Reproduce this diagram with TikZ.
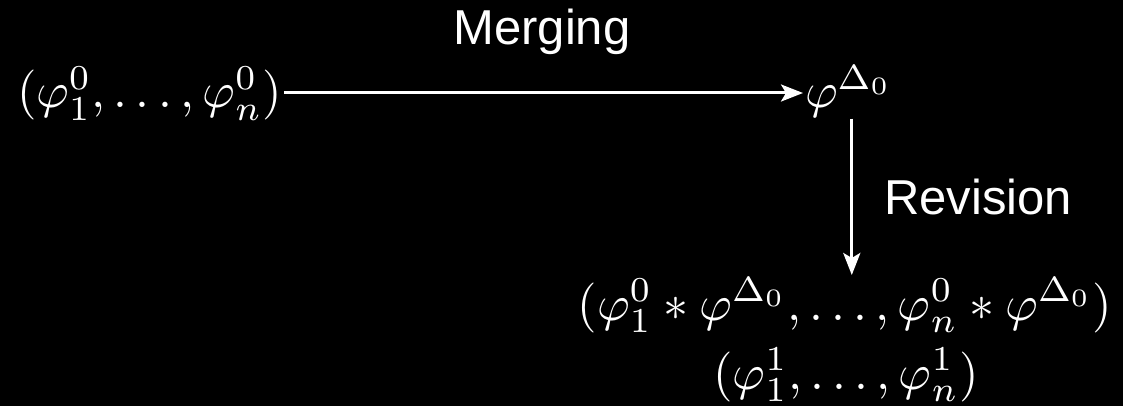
\RequirePackage{fix-cm}
\documentclass[tikz,border=0pt]{standalone}
\usepackage[no-math]{fontspec}
\newfontfamily\labelfont{Liberation Sans}
\usetikzlibrary{arrows.meta}
\tikzset{
  mathtxt/.style={text=white, inner sep=0pt, scale=5.0},
  lbl/.style={text=white, inner sep=0pt, font=\labelfont\fontsize{49}{56}\selectfont},
  arr/.style={draw=white, line width=3pt, -{Stealth[length=22pt,width=17pt,inset=5pt]}},
}
\begin{document}
\begin{tikzpicture}[x=1pt,y=-1pt]
\fill[black] (0,0) rectangle (1123,406);
\useasboundingbox (0,0) rectangle (1123,406);
\node[mathtxt, anchor=base west] (L) at (16,108) {$(\varphi_1^0,\ldots,\varphi_n^0)$};
\node[mathtxt, anchor=base west] (P) at (804,108) {$\varphi^{\Delta_0}$};
\node[mathtxt, anchor=base] (B1) at (845,320) {$(\varphi_1^0*\varphi^{\Delta_0},\ldots,\varphi_n^0*\varphi^{\Delta_0})$};
\node[mathtxt, anchor=base] (B2) at (846,389) {$(\varphi_1^1,\ldots,\varphi_n^1)$};
\node[lbl, anchor=base] (M) at (542,45) {Merging};
\node[lbl, anchor=base west] (R) at (884,214) {Revision};
\draw[arr] ([xshift=1pt,yshift=15pt]L.base east) -- ([xshift=-1pt,yshift=15pt]P.base west);
\draw[arr] ([xshift=3pt]P.south) -- ([xshift=3pt]P.south |- 0,275);
\end{tikzpicture}
\end{document}
